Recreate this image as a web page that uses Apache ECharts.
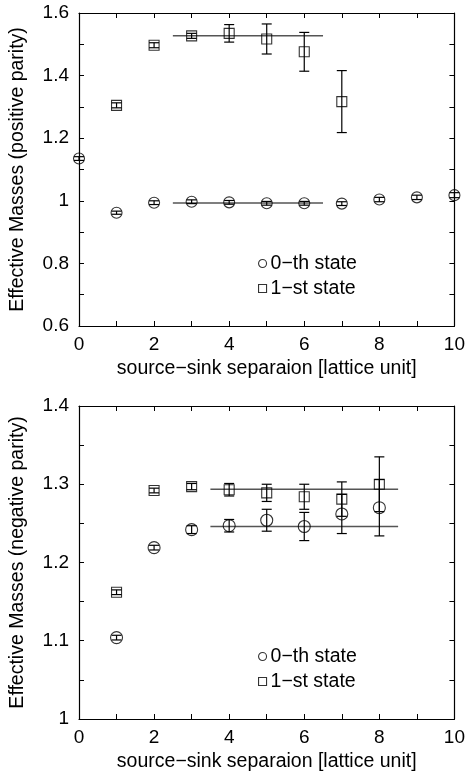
<!DOCTYPE html>
<html>
<head>
<meta charset="utf-8">
<script src="https://cdn.jsdelivr.net/npm/echarts@6/dist/echarts.min.js"></script>
<style>
html,body{margin:0;padding:0;background:#fff;}
#chart{width:468px;height:777px;}
</style>
</head>
<body>
<div id="chart"></div>
<script>
// ---- Data ----
const xTitle = 'source\u2212sink separaion [lattice unit]';
const yTitleTop = 'Effective Masses (positive parity)';
const yTitleBot = 'Effective Masses (negative parity)';
const name0 = '0\u2212th state';
const name1 = '1\u2212st state';

// Top panel (positive parity)
const topX0 = [0, 1, 2, 3, 4, 5, 6, 7, 8, 9, 10];
const topM0 = [1.135, 0.962, 0.994, 0.997, 0.995, 0.992, 0.992, 0.991, 1.004, 1.011, 1.018];
const topE0 = [0.006, 0.005, 0.006, 0.006, 0.006, 0.006, 0.006, 0.006, 0.007, 0.007, 0.008];
const topX1 = [1, 2, 3, 4, 5, 6, 7];
const topM1 = [1.305, 1.497, 1.527, 1.535, 1.517, 1.476, 1.317];
const topE1 = [0.008, 0.008, 0.008, 0.028, 0.048, 0.062, 0.099];
const topFitRange = [2.5, 6.5];
const topFit0 = 0.993;
const topFit1 = 1.527;

// Bottom panel (negative parity)
const botX = [1, 2, 3, 4, 5, 6, 7, 8];
const botM0 = [1.104, 1.219, 1.242, 1.247, 1.254, 1.246, 1.262, 1.270];
const botE0 = [0.003, 0.003, 0.005, 0.008, 0.014, 0.018, 0.025, 0.036];
const botM1 = [1.162, 1.292, 1.297, 1.293, 1.289, 1.284, 1.281, 1.300];
const botE1 = [0.003, 0.003, 0.004, 0.008, 0.011, 0.016, 0.022, 0.035];
const botFitRange = [3.5, 8.5];
const botFit0 = 1.246;
const botFit1 = 1.2935;

// Axes
const xMin = 0, xMax = 10, xStep = 1;
const topYMin = 0.6, topYMax = 1.6, topYStep = 0.1;
const botYMin = 1.0, botYMax = 1.4, botYStep = 0.05;

// ---- Build ----
const FONT = '"Liberation Sans", Arial, Helvetica, sans-serif';
const chart = echarts.init(document.getElementById('chart'), null, {renderer: 'canvas'});

function zip(xs, ys, es) { return xs.map((x, i) => es ? [x, ys[i], es[i]] : [x, ys[i]]); }

function errRender(params, api) {
  const x = api.value(0), y = api.value(1), e = api.value(2);
  const p1 = api.coord([x, y + e]);
  const p2 = api.coord([x, y - e]);
  const hw = 5;
  const st = {stroke: '#000', lineWidth: 1.2};
  return {
    type: 'group',
    children: [
      {type: 'line', shape: {x1: p1[0], y1: p1[1], x2: p2[0], y2: p2[1]}, style: st},
      {type: 'line', shape: {x1: p1[0] - hw, y1: p1[1], x2: p1[0] + hw, y2: p1[1]}, style: st},
      {type: 'line', shape: {x1: p2[0] - hw, y1: p2[1], x2: p2[0] + hw, y2: p2[1]}, style: st}
    ]
  };
}

const gridLeft = 79, gridWidth = 377, gridH = 313;
const grids = [
  {left: gridLeft, top: 13, width: gridWidth, height: gridH},
  {left: gridLeft, top: 406, width: gridWidth, height: gridH}
];

function xAxisDef(gi, pos) {
  const main = pos === 'bottom';
  return {
    type: 'value', gridIndex: gi, position: pos, min: xMin, max: xMax, interval: xStep,
    axisLine: {show: true, onZero: false, lineStyle: {color: '#000', width: 1.2}},
    axisTick: {show: true, inside: true, length: 5, lineStyle: {color: '#000', width: 1}},
    splitLine: {show: false},
    axisLabel: {show: main, color: '#000', fontSize: 19, fontFamily: FONT, margin: 9,
      formatter: v => (Math.round(v) % 2 === 0 ? String(Math.round(v)) : '')},
    name: main ? xTitle : '', nameLocation: 'middle', nameGap: 33,
    nameTextStyle: {color: '#000', fontSize: 19.5, fontFamily: FONT}
  };
}

function yAxisDef(gi, pos, mn, mx, st, labelEvery, scale, title) {
  const main = pos === 'left';
  return {
    type: 'value', gridIndex: gi, position: pos, min: mn, max: mx, interval: st,
    axisLine: {show: true, onZero: false, lineStyle: {color: '#000', width: 1.2}},
    axisTick: {show: true, inside: true, length: 5, lineStyle: {color: '#000', width: 1}},
    splitLine: {show: false},
    axisLabel: {show: main, color: '#000', fontSize: 19, fontFamily: FONT, margin: 10,
      formatter: v => { const k = Math.round(v * scale); return k % labelEvery === 0 ? String(k / scale) : ''; }},
    name: main ? title : '', nameLocation: 'middle', nameGap: 51,
    nameTextStyle: {color: '#000', fontSize: 19.5, fontFamily: FONT}
  };
}

const markerStyle = {color: 'rgba(255,255,255,0)', borderColor: '#000', borderWidth: 1.1};

function panelSeries(xi, yi, x0, m0, e0, x1, m1, e1, fr, f0, f1, cSize) {
  return [
    {type: 'line', xAxisIndex: xi, yAxisIndex: yi, data: [[fr[0], f0], [fr[1], f0]], symbol: 'none',
      lineStyle: {color: '#555', width: 1.5}, silent: true, z: 1},
    {type: 'line', xAxisIndex: xi, yAxisIndex: yi, data: [[fr[0], f1], [fr[1], f1]], symbol: 'none',
      lineStyle: {color: '#555', width: 1.5}, silent: true, z: 1},
    {type: 'custom', xAxisIndex: xi, yAxisIndex: yi, data: zip(x0, m0, e0), renderItem: errRender,
      encode: {x: 0, y: 1}, z: 3, silent: true},
    {type: 'custom', xAxisIndex: xi, yAxisIndex: yi, data: zip(x1, m1, e1), renderItem: errRender,
      encode: {x: 0, y: 1}, z: 3, silent: true},
    {type: 'scatter', name: name0, xAxisIndex: xi, yAxisIndex: yi, data: zip(x0, m0), symbol: 'circle',
      symbolSize: cSize, itemStyle: markerStyle, z: 4},
    {type: 'scatter', name: name1, xAxisIndex: xi, yAxisIndex: yi, data: zip(x1, m1), symbol: 'rect',
      symbolSize: 10, itemStyle: markerStyle, z: 4}
  ];
}

function legendDef(top) {
  return {
    data: [{name: name0, icon: 'circle'}, {name: name1, icon: 'rect'}],
    orient: 'vertical', left: 253, top: top, itemWidth: 8, itemHeight: 8, itemGap: 4,
    selectedMode: false,
    itemStyle: {color: 'rgba(255,255,255,0)', borderColor: '#000', borderWidth: 1.1},
    textStyle: {color: '#000', fontSize: 19.5, fontFamily: FONT, lineHeight: 21, padding: [0, 0, 0, -1]}
  };
}

const option = {
  animation: false,
  backgroundColor: '#fff',
  grid: grids,
  xAxis: [xAxisDef(0, 'bottom'), xAxisDef(0, 'top'), xAxisDef(1, 'bottom'), xAxisDef(1, 'top')],
  yAxis: [
    yAxisDef(0, 'left', topYMin, topYMax, topYStep, 2, 10, yTitleTop),
    yAxisDef(0, 'right', topYMin, topYMax, topYStep, 2, 10, ''),
    yAxisDef(1, 'left', botYMin, botYMax, botYStep, 10, 100, yTitleBot),
    yAxisDef(1, 'right', botYMin, botYMax, botYStep, 10, 100, '')
  ],
  legend: [legendDef(248), legendDef(641)],
  series: [
    ...panelSeries(0, 0, topX0, topM0, topE0, topX1, topM1, topE1, topFitRange, topFit0, topFit1, 11),
    ...panelSeries(2, 2, botX, botM0, botE0, botX, botM1, botE1, botFitRange, botFit0, botFit1, 12)
  ]
};
chart.setOption(option);
</script>
</body>
</html>
